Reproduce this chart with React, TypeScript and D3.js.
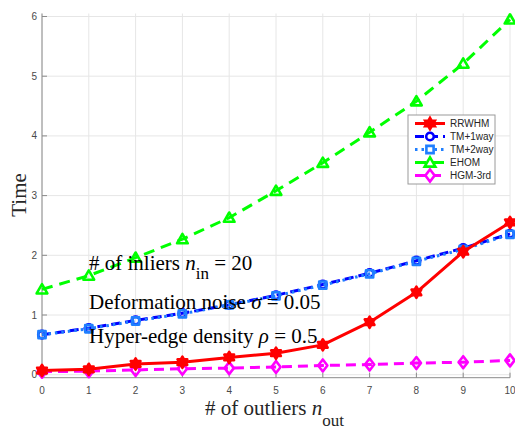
import React from "react";
import * as d3 from "d3";

const outliers = [0, 1, 2, 3, 4, 5, 6, 7, 8, 9, 10];
const rrwhm = [0.07, 0.09, 0.18, 0.21, 0.29, 0.36, 0.5, 0.88, 1.38, 2.06, 2.55];
const tm1way = [0.67, 0.78, 0.91, 1.03, 1.17, 1.33, 1.51, 1.7, 1.91, 2.12, 2.36];
const tm2way = [0.67, 0.77, 0.9, 1.02, 1.17, 1.32, 1.5, 1.69, 1.9, 2.1, 2.35];
const ehom = [1.43, 1.66, 1.96, 2.27, 2.63, 3.08, 3.55, 4.06, 4.58, 5.21, 5.95];
const hgm3rd = [0.05, 0.06, 0.08, 0.1, 0.11, 0.13, 0.155, 0.17, 0.195, 0.21, 0.24];
const xTicks = [0, 1, 2, 3, 4, 5, 6, 7, 8, 9, 10];
const yTicks = [0, 1, 2, 3, 4, 5, 6];
const seriesNames = ["RRWHM", "TM+1way", "TM+2way", "EHOM", "HGM-3rd"];

type Marker = "hexagram" | "circle" | "square" | "triangle" | "diamond";

interface Series {
  name: string;
  values: number[];
  color: string;
  dash: string;
  marker: Marker;
}

const series: Series[] = [
  { name: seriesNames[1], values: tm1way, color: "#0000ff", dash: "9,5", marker: "circle" },
  { name: seriesNames[2], values: tm2way, color: "#1f7fff", dash: "2.5,4", marker: "square" },
  { name: seriesNames[3], values: ehom, color: "#00ff00", dash: "11,7", marker: "triangle" },
  { name: seriesNames[4], values: hgm3rd, color: "#ff00ff", dash: "10,6", marker: "diamond" },
  { name: seriesNames[0], values: rrwhm, color: "#ff0000", dash: "", marker: "hexagram" },
];
const legendOrder = [4, 0, 1, 2, 3];

function markerPath(m: Marker, cx: number, cy: number): string {
  if (m === "circle") {
    const r = 3.8;
    return `M${cx - r},${cy}a${r},${r} 0 1,0 ${2 * r},0a${r},${r} 0 1,0 ${-2 * r},0Z`;
  }
  if (m === "square") {
    const s = 3.6;
    return `M${cx - s},${cy - s}h${2 * s}v${2 * s}h${-2 * s}Z`;
  }
  if (m === "triangle") {
    const r = 6.2;
    const pts = [0, 1, 2].map((i) => {
      const a = -Math.PI / 2 + (i * 2 * Math.PI) / 3;
      return [cx + r * Math.cos(a), cy + r * Math.sin(a) + 1];
    });
    return "M" + pts.map((p) => p.join(",")).join("L") + "Z";
  }
  if (m === "diamond") {
    const w = 4.6, h = 6;
    return `M${cx},${cy - h}L${cx + w},${cy}L${cx},${cy + h}L${cx - w},${cy}Z`;
  }
  // hexagram
  const R = 5.6, r = R / Math.sqrt(3);
  const pts: number[][] = [];
  for (let i = 0; i < 12; i++) {
    const a = -Math.PI / 2 + (i * Math.PI) / 6;
    const rr = i % 2 === 0 ? R : r;
    pts.push([cx + rr * Math.cos(a), cy + rr * Math.sin(a)]);
  }
  return "M" + pts.map((p) => p.join(",")).join("L") + "Z";
}

export default function App() {
  const W = 515, H = 430;
  const x = d3.scaleLinear().domain([0, 10]).range([42, 510]);
  const y = d3.scaleLinear().domain([-0.05, 6.05]).range([377.7, 13.5]);
  const line = d3
    .line<number>()
    .x((_, i) => x(outliers[i]))
    .y((d) => y(d));

  const serif = "'Liberation Serif', 'Times New Roman', serif";
  const sans = "'Liberation Sans', Arial, Helvetica, sans-serif";
  const axisColor = "#8a8a8a";
  const tickColor = "#4a4a4a";

  const legX = 408, legY = 115, legW = 87, legH = 69;

  return (
    <svg width={W} height={H} style={{ position: "absolute", left: 0, top: 0 }}>
      <rect width={W} height={H} fill="#fff" />
      {/* grid */}
      {xTicks.map((t) => (
        <line key={"gx" + t} x1={x(t)} x2={x(t)} y1={y.range()[0]} y2={y.range()[1]} stroke="#e6e6e6" strokeWidth={1} />
      ))}
      {yTicks.map((t) => (
        <line key={"gy" + t} x1={x(0)} x2={x(10)} y1={y(t)} y2={y(t)} stroke="#e6e6e6" strokeWidth={1} />
      ))}
      {/* axes */}
      <line x1={x(0)} x2={x(10)} y1={y.range()[0]} y2={y.range()[0]} stroke={axisColor} strokeWidth={1} />
      <line x1={x(0)} x2={x(0)} y1={y.range()[0]} y2={y.range()[1]} stroke={axisColor} strokeWidth={1} />
      {xTicks.map((t) => (
        <g key={"xt" + t}>
          <line x1={x(t)} x2={x(t)} y1={y.range()[0]} y2={y.range()[0] - 5} stroke={axisColor} />
          <text x={x(t)} y={394} textAnchor="middle" fontFamily={sans} fontSize={10} fill={tickColor}>
            {t}
          </text>
        </g>
      ))}
      {yTicks.map((t) => (
        <g key={"yt" + t}>
          <line x1={x(0)} x2={x(0) + 5} y1={y(t)} y2={y(t)} stroke={axisColor} />
          <text x={37} y={y(t) + 3.5} textAnchor="end" fontFamily={sans} fontSize={10} fill={tickColor}>
            {t}
          </text>
        </g>
      ))}
      {/* series */}
      {series.map((s) => (
        <g key={s.name}>
          <path d={line(s.values) || ""} fill="none" stroke={s.color} strokeWidth={3} strokeDasharray={s.dash} strokeLinejoin="round" />
          {s.values.map((v, i) => (
            <path key={i} d={markerPath(s.marker, x(outliers[i]), y(v))} fill={s.marker === "hexagram" ? s.color : "none"} stroke={s.color} strokeWidth={2.6} strokeLinejoin="round" />
          ))}
        </g>
      ))}
      {/* annotations */}
      <text x={89} y={270} fontFamily={serif} fontSize={21} fill="#000">
        # of inliers <tspan fontStyle="italic">n</tspan>
        <tspan fontSize={17} dy={9}>in</tspan>
        <tspan dy={-9}> = 20</tspan>
      </text>
      <text x={89} y={309} fontFamily={serif} fontSize={21} fill="#000">
        Deformation noise <tspan fontStyle="italic">σ</tspan> = 0.05
      </text>
      <text x={89} y={343} fontFamily={serif} fontSize={21} fill="#000">
        Hyper-edge density <tspan fontStyle="italic">ρ</tspan> = 0.5
      </text>
      {/* axis labels */}
      <text x={205} y={415} fontFamily={serif} fontSize={21} fill="#262626">
        # of outliers <tspan fontStyle="italic">n</tspan>
        <tspan fontSize={17} dy={11}>out</tspan>
      </text>
      <text transform={`translate(26,195) rotate(-90)`} textAnchor="middle" fontFamily={serif} fontSize={21} fill="#262626">
        Time
      </text>
      {/* legend */}
      <rect x={legX} y={legY} width={legW} height={legH} fill="#fff" stroke="#9a9a9a" strokeWidth={1} />
      {legendOrder.map((si, k) => {
        const s = series[si];
        const ly = legY + 8.5 + k * 13;
        return (
          <g key={"lg" + s.name}>
            <line x1={415} x2={445} y1={ly} y2={ly} stroke={s.color} strokeWidth={3} strokeDasharray={s.dash} />
            <path d={markerPath(s.marker, 430, ly)} fill={s.marker === "hexagram" ? s.color : "#fff"} stroke={s.color} strokeWidth={2.6} />
            <text x={450} y={ly + 3.5} fontFamily={sans} fontSize={10} fill="#262626">
              {s.name}
            </text>
          </g>
        );
      })}
    </svg>
  );
}
